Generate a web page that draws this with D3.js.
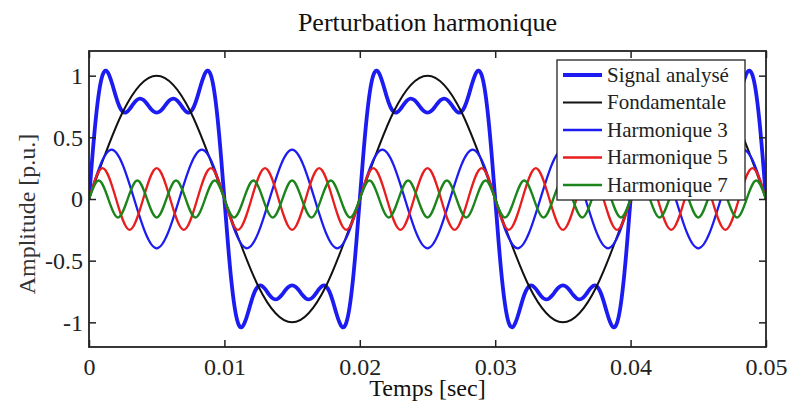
<!DOCTYPE html>
<html>
<head>
<meta charset="utf-8">
<script src="https://cdn.jsdelivr.net/npm/d3@7"></script>
<style>
  html, body { margin: 0; padding: 0; background: #fff; }
  svg { display: block; }
  text { font-family: "Liberation Serif", "Times New Roman", serif; }
</style>
</head>
<body>
<svg id="chart" width="790" height="406"></svg>
<script>
// ---------- data ----------
const title = "Perturbation harmonique";
const xLabel = "Temps [sec]";
const yLabel = "Amplitude [p.u.]";
const xDomain = [0, 0.05];
const yDomain = [-1.2, 1.2];
const xTicks = [0, 0.01, 0.02, 0.03, 0.04, 0.05];
const xTickLabels = ["0", "0.01", "0.02", "0.03", "0.04", "0.05"];
const yTicks = [-1, -0.5, 0, 0.5, 1];
const yTickLabels = ["-1", "-0.5", "0", "0.5", "1"];
const seriesNames = ["Signal analysé", "Fondamentale", "Harmonique 3", "Harmonique 5", "Harmonique 7"];

// samples evenly spaced from t = 0 to t = 0.05 s
const signalValues = [
  0,.346,.649,.874,1.004,1.041,1.002,.920,.826,.749,.707,.703,.729,.767,.800,.814,.804,.776,.740,.711,.700,.711,.740,.776,.804,.814,.800,.767,.729,.703,.707,.749,.826,.920,1.002,1.041,1.004,.874,.649,.346,0,
  -.346,-.649,-.874,-1.004,-1.041,-1.002,-.920,-.826,-.749,-.707,-.703,-.729,-.767,-.800,-.814,-.804,-.776,-.740,-.711,-.700,-.711,-.740,-.776,-.804,-.814,-.800,-.767,-.729,-.703,-.707,-.749,-.826,-.920,-1.002,-1.041,-1.004,-.874,-.649,-.346,0,
  .346,.649,.874,1.004,1.041,1.002,.920,.826,.749,.707,.703,.729,.767,.800,.814,.804,.776,.740,.711,.700,.711,.740,.776,.804,.814,.800,.767,.729,.703,.707,.749,.826,.920,1.002,1.041,1.004,.874,.649,.346,0,
  -.346,-.649,-.874,-1.004,-1.041,-1.002,-.920,-.826,-.749,-.707,-.703,-.729,-.767,-.800,-.814,-.804,-.776,-.740,-.711,-.700,-.711,-.740,-.776,-.804,-.814,-.800,-.767,-.729,-.703,-.707,-.749,-.826,-.920,-1.002,-1.041,-1.004,-.874,-.649,-.346,0,
  .346,.649,.874,1.004,1.041,1.002,.920,.826,.749,.707,.703,.729,.767,.800,.814,.804,.776,.740,.711,.700,.711,.740,.776,.804,.814,.800,.767,.729,.703,.707,.749,.826,.920,1.002,1.041,1.004,.874,.649,.346,0
];
const fundamentalValues = [0,.707,1,.707,0,-.707,-1,-.707,0,.707,1,.707,0,-.707,-1,-.707,0,.707,1,.707,0];
const h3Values = [0,.4,0,-.4,0,.4,0,-.4,0,.4,0,-.4,0,.4,0,-.4,0,.4,0,-.4,0,.4,0,-.4,0,.4,0,-.4,0,.4,0];
const h5Values = [0,.25,0,-.25,0,.25,0,-.25,0,.25,0,-.25,0,.25,0,-.25,0,.25,0,-.25,0,.25,0,-.25,0,.25,0,-.25,0,.25,0,-.25,0,.25,0,-.25,0,.25,0,-.25,0,.25,0,-.25,0,.25,0,-.25,0,.25,0];
const h7Values = [0,.15,0,-.15,0,.15,0,-.15,0,.15,0,-.15,0,.15,0,-.15,0,.15,0,-.15,0,.15,0,-.15,0,.15,0,-.15,0,.15,0,-.15,0,.15,0,-.15,0,.15,0,-.15,0,.15,0,-.15,0,.15,0,-.15,0,.15,0,-.15,0,.15,0,-.15,0,.15,0,-.15,0,.15,0,-.15,0,.15,0,-.15,0,.15,0];

// ---------- layout ----------
const svg = d3.select("#chart");
const plot = { left: 89, right: 766, top: 51, bottom: 347 };
const x = d3.scaleLinear().domain(xDomain).range([plot.left, plot.right]);
const y = d3.scaleLinear().domain(yDomain).range([plot.bottom, plot.top]);

const styles = [
  { color: "#1c1cf2", width: 3.8 },
  { color: "#111111", width: 2.0 },
  { color: "#1c1cf2", width: 2.3 },
  { color: "#e81e1e", width: 2.3 },
  { color: "#1b841b", width: 2.3 }
];

function toPoints(values) {
  const n = values.length;
  return values.map((v, i) => [xDomain[0] + (xDomain[1] - xDomain[0]) * i / (n - 1), v]);
}
const allSeries = [signalValues, fundamentalValues, h3Values, h5Values, h7Values].map(toPoints);

svg.append("defs").append("clipPath").attr("id", "clip")
  .append("rect").attr("x", plot.left).attr("y", plot.top)
  .attr("width", plot.right - plot.left).attr("height", plot.bottom - plot.top);

const line = d3.line().x(d => x(d[0])).y(d => y(d[1])).curve(d3.curveNatural);

const gLines = svg.append("g").attr("clip-path", "url(#clip)");
allSeries.forEach((pts, i) => {
  gLines.append("path").datum(pts)
    .attr("fill", "none")
    .attr("stroke", styles[i].color)
    .attr("stroke-width", styles[i].width)
    .attr("stroke-linejoin", "round")
    .attr("d", line);
});

// ---------- axes ----------
const tickLen = 7;
const axisColor = "#222";
const fmtX = d => xTickLabels[xTicks.indexOf(d)];
const fmtY = d => yTickLabels[yTicks.indexOf(d)];

const gx = svg.append("g").attr("transform", `translate(0,${plot.bottom})`)
  .call(d3.axisBottom(x).tickValues(xTicks).tickFormat(fmtX).tickSizeInner(-tickLen).tickSizeOuter(0).tickPadding(11));
const gxTop = svg.append("g").attr("transform", `translate(0,${plot.top})`)
  .call(d3.axisTop(x).tickValues(xTicks).tickFormat("").tickSizeInner(-tickLen).tickSizeOuter(0));
const gy = svg.append("g").attr("transform", `translate(${plot.left},0)`)
  .call(d3.axisLeft(y).tickValues(yTicks).tickFormat(fmtY).tickSizeInner(-tickLen).tickSizeOuter(0).tickPadding(6));
const gyRight = svg.append("g").attr("transform", `translate(${plot.right},0)`)
  .call(d3.axisRight(y).tickValues(yTicks).tickFormat("").tickSizeInner(-tickLen).tickSizeOuter(0));

[gx, gxTop, gy, gyRight].forEach(g => {
  g.select(".domain").remove();
  g.selectAll(".tick line").attr("stroke", axisColor).attr("stroke-width", 1.5);
  g.selectAll(".tick text")
    .attr("fill", "#222")
    .style("font-family", '"Liberation Serif", "Times New Roman", serif')
    .style("font-size", "24px");
});

svg.append("rect")
  .attr("x", plot.left).attr("y", plot.top)
  .attr("width", plot.right - plot.left).attr("height", plot.bottom - plot.top)
  .attr("fill", "none").attr("stroke", axisColor).attr("stroke-width", 1.8);

// ---------- texts ----------
svg.append("text")
  .attr("x", (plot.left + plot.right) / 2).attr("y", 31)
  .attr("text-anchor", "middle").attr("fill", "#111")
  .style("font-size", "26px").text(title);

svg.append("text")
  .attr("x", (plot.left + plot.right) / 2).attr("y", 396)
  .attr("text-anchor", "middle").attr("fill", "#111")
  .style("font-size", "24px").text(xLabel);

svg.append("text")
  .attr("transform", `translate(35,${(plot.top + plot.bottom) / 2 + 15}) rotate(-90)`)
  .attr("text-anchor", "middle").attr("fill", "#333")
  .style("font-size", "24px").text(yLabel);

// ---------- legend ----------
const legend = svg.append("g");
legend.append("rect")
  .attr("x", 557).attr("y", 60).attr("width", 188).attr("height", 140)
  .attr("fill", "#fff").attr("stroke", "#222").attr("stroke-width", 1.3);
const rowY = d3.scalePoint().domain(seriesNames).range([75, 185]);
seriesNames.forEach((name, i) => {
  const yy = rowY(name);
  legend.append("line")
    .attr("x1", 563).attr("x2", 602).attr("y1", yy).attr("y2", yy)
    .attr("stroke", styles[i].color).attr("stroke-width", styles[i].width);
  legend.append("text")
    .attr("x", 607).attr("y", yy).attr("dy", "0.33em")
    .attr("fill", "#222").style("font-size", "21px").text(name);
});
</script>
</body>
</html>
